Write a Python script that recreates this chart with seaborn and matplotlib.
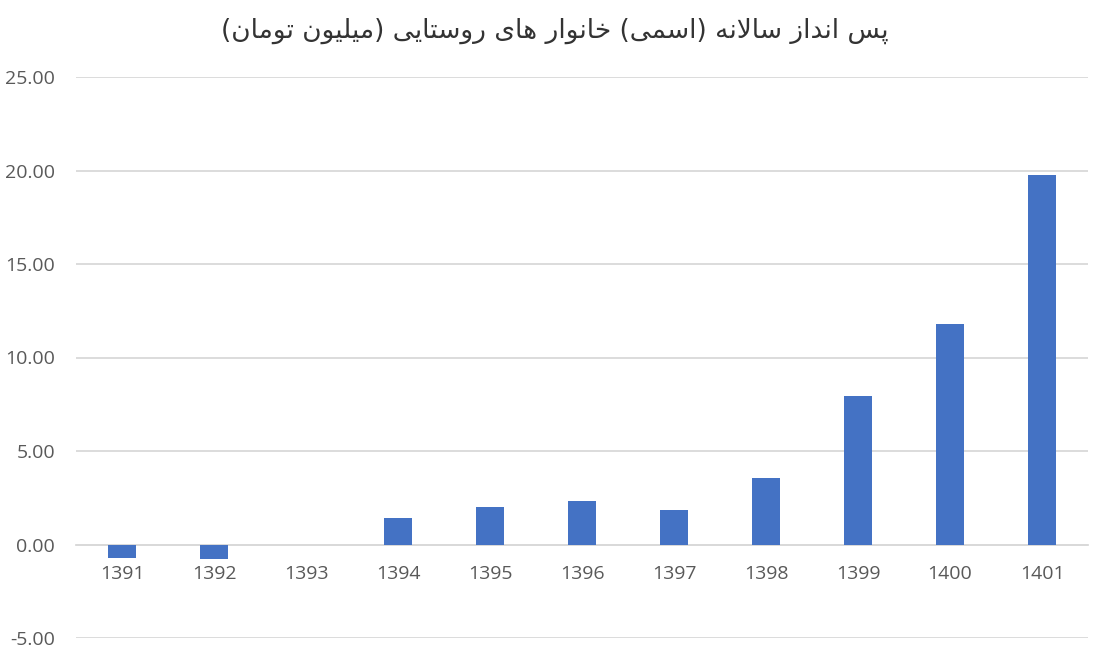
import matplotlib
matplotlib.use("Agg")
import matplotlib.pyplot as plt
import seaborn as sns
import pandas as pd
from matplotlib.ticker import FuncFormatter, MultipleLocator

# ---- data ----
years = ["1391", "1392", "1393", "1394", "1395", "1396", "1397", "1398", "1399", "1400", "1401"]
savings = [-0.70, -0.80, 0.0, 1.40, 1.98, 2.30, 1.82, 3.58, 7.96, 11.80, 19.75]
title_text = "پس انداز سالانه (اسمی) خانوار های روستایی (میلیون تومان)"

# ---- minimal Arabic/Persian shaping (matplotlib has no shaping/bidi) ----
FORMS = {
    'ا': ('\uFE8D', '\uFE8E', None, None),
    'د': ('\uFEA9', '\uFEAA', None, None),
    'ذ': ('\uFEAB', '\uFEAC', None, None),
    'ر': ('\uFEAD', '\uFEAE', None, None),
    'ز': ('\uFEAF', '\uFEB0', None, None),
    'و': ('\uFEED', '\uFEEE', None, None),
    'پ': ('\uFB56', '\uFB57', '\uFB58', '\uFB59'),
    'ت': ('\uFE95', '\uFE96', '\uFE97', '\uFE98'),
    'خ': ('\uFEA5', '\uFEA6', '\uFEA7', '\uFEA8'),
    'س': ('\uFEB1', '\uFEB2', '\uFEB3', '\uFEB4'),
    'ل': ('\uFEDD', '\uFEDE', '\uFEDF', '\uFEE0'),
    'م': ('\uFEE1', '\uFEE2', '\uFEE3', '\uFEE4'),
    'ن': ('\uFEE5', '\uFEE6', '\uFEE7', '\uFEE8'),
    'ه': ('\uFEE9', '\uFEEA', '\uFEEB', '\uFEEC'),
    'ی': ('\uFBFC', '\uFBFD', '\uFBFE', '\uFBFF'),
}


def joins_forward(c):
    return c in FORMS and FORMS[c][2] is not None


def shape(text):
    out = []
    i = 0
    n = len(text)
    while i < n:
        c = text[i]
        if c not in FORMS:
            out.append(c)
            i += 1
            continue
        prev = text[i - 1] if i > 0 else ''
        jp = joins_forward(prev)
        if c == 'ل' and i + 1 < n and text[i + 1] == 'ا':
            out.append('\uFEFC' if jp else '\uFEFB')
            i += 2
            continue
        nxt = text[i + 1] if i + 1 < n else ''
        jn = joins_forward(c) and nxt in FORMS
        iso, fin, ini, med = FORMS[c]
        if jp and jn:
            out.append(med)
        elif jp:
            out.append(fin)
        elif jn:
            out.append(ini)
        else:
            out.append(iso)
        i += 1
    vis = ''.join(out)[::-1]
    vis = vis.translate(str.maketrans({'(': ')', ')': '('}))
    return vis


df = pd.DataFrame({"year": years, "value": savings})

sns.set_theme(style="white")
plt.rcParams['font.family'] = ['Open Sans', 'DejaVu Sans']

fig = plt.figure(figsize=(11.05, 6.58), dpi=100)
ax = fig.add_axes([76 / 1105, 20 / 658, 1012 / 1105, 561 / 658])

sns.barplot(data=df, x="year", y="value", color="#4472C4", saturation=1,
            width=0.30, linewidth=0, edgecolor="none", ax=ax, zorder=3)

ax.set_ylim(-5, 25)
ax.set_xlim(-0.5, len(years) - 0.5)
ax.yaxis.set_major_locator(MultipleLocator(5))
ax.yaxis.set_major_formatter(FuncFormatter(lambda v, p: f"{v:.2f}"))
ax.grid(axis="y", color="#d9d9d9", linewidth=1.3, zorder=0)
ax.grid(axis="x", visible=False)
for s in ["left", "right", "top"]:
    ax.spines[s].set_visible(False)
ax.spines["bottom"].set_position(("data", 0))
ax.spines["bottom"].set_color("#d9d9d9")
ax.spines["bottom"].set_linewidth(1.3)
ax.set_xlabel("")
ax.set_ylabel("")
ax.tick_params(axis="x", length=0, pad=15, labelsize=14, labelcolor="#595959")
ax.tick_params(axis="y", length=0, pad=15, labelsize=14, labelcolor="#595959")

fig.text(0.502, 1 - 31 / 658, shape(title_text), ha="center", va="center",
         fontsize=19, color="#333333", family=["DejaVu Sans"])

fig.savefig("out.png", dpi=100)
